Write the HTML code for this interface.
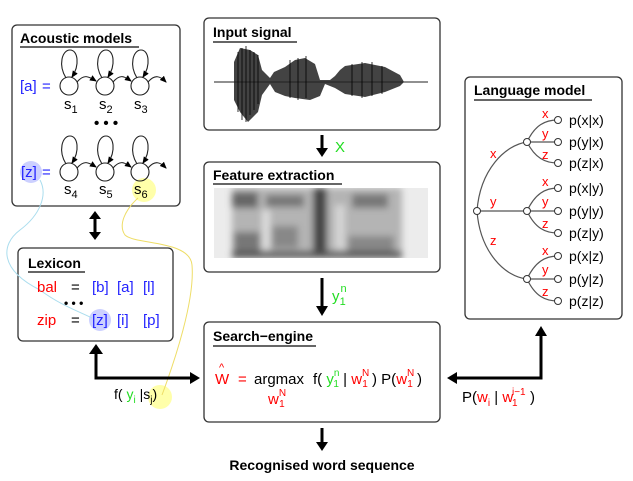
<!DOCTYPE html>
<html><head><meta charset="utf-8"><style>
body{margin:0;background:#fff;width:633px;height:481px;overflow:hidden}
svg{display:block;font-family:"Liberation Sans",sans-serif}
.t{font-weight:bold;font-size:14px}
.b{fill:#22f}.r{fill:#f00}.g{fill:#2d2}
</style></head><body>
<svg width="633" height="481" viewBox="0 0 633 481">
<defs>
<marker id="ah" markerWidth="8" markerHeight="8" refX="6" refY="4" orient="auto" markerUnits="userSpaceOnUse"><path d="M0,1 L7,4 L0,7z" fill="#000"/></marker>
<filter id="bl" x="-10%" y="-10%" width="120%" height="120%"><feGaussianBlur stdDeviation="3.5"/></filter>
<clipPath id="sc"><rect x="214" y="188" width="214" height="70"/></clipPath>
</defs>
<g fill="none" stroke="#333" stroke-width="1.3">
<rect x="12" y="25" width="168" height="181" rx="5"/>
<rect x="18" y="248" width="155" height="93" rx="5"/>
<rect x="204" y="18" width="236" height="112" rx="5"/>
<rect x="204" y="162" width="236" height="110" rx="5"/>
<rect x="204" y="322" width="236" height="100" rx="5"/>
<rect x="465" y="77" width="157" height="242" rx="5"/>
</g>
<text x="20" y="43" class="t">Acoustic models</text><line x1="20" y1="47" x2="139" y2="47" stroke="#333" stroke-width="1.5"/>
<text x="28" y="268" class="t" font-size="15">Lexicon</text><line x1="28" y1="272" x2="85" y2="272" stroke="#333" stroke-width="1.5"/>
<text x="213" y="37" class="t">Input signal</text><line x1="213" y1="42" x2="297" y2="42" stroke="#333" stroke-width="1.5"/>
<text x="213" y="180" class="t">Feature extraction</text><line x1="213" y1="184" x2="342" y2="184" stroke="#333" stroke-width="1.5"/>
<text x="213" y="341" class="t">Search−engine</text><line x1="213" y1="346" x2="316" y2="346" stroke="#333" stroke-width="1.5"/>
<text x="474" y="95" class="t">Language model</text><line x1="474" y1="100" x2="592" y2="100" stroke="#333" stroke-width="1.5"/>
<circle cx="31" cy="172" r="11" fill="#ccd0ff"/>
<circle cx="144" cy="190" r="12" fill="#ffffaa"/>
<circle cx="100" cy="320" r="11" fill="#ccd0ff"/>
<circle cx="160" cy="397" r="12" fill="#ffffaa"/>
<path d="M40,180 C48,195 40,215 20,230 C0,245 0,270 40,290 C60,305 80,312 92,318" fill="none" stroke="#aaddee" stroke-width="1"/>
<path d="M138,198 C125,210 118,225 125,235 C135,245 190,240 192,265 C195,300 175,360 162,395" fill="none" stroke="#eedd66" stroke-width="1"/>
<g fill="none" stroke="#222" stroke-width="1.1">
<circle cx="69" cy="86" r="9"/><circle cx="105" cy="86" r="9"/><circle cx="140" cy="86" r="9"/>
<circle cx="69" cy="172" r="9"/><circle cx="105" cy="172" r="9"/><circle cx="140" cy="172" r="9"/>
<path d="M66,78 C58,65 62,50 70,50 C78,50 80,65 72,77" marker-end="url(#ah)"/>
<path d="M102,78 C94,65 98,50 106,50 C114,50 116,65 108,77" marker-end="url(#ah)"/>
<path d="M137,78 C129,65 133,50 141,50 C149,50 151,65 143,77" marker-end="url(#ah)"/>
<path d="M66,164 C58,151 62,136 70,136 C78,136 80,151 72,163" marker-end="url(#ah)"/>
<path d="M102,164 C94,151 98,136 106,136 C114,136 116,151 108,163" marker-end="url(#ah)"/>
<path d="M137,164 C129,151 133,136 141,136 C149,136 151,151 143,163" marker-end="url(#ah)"/>
<path d="M77,82 C84,74 88,76 96,81" marker-end="url(#ah)"/>
<path d="M113,82 C120,74 124,76 131,81" marker-end="url(#ah)"/>
<path d="M148,82 C155,74 160,76 166,82" marker-end="url(#ah)"/>
<path d="M77,168 C84,160 88,162 96,167" marker-end="url(#ah)"/>
<path d="M113,168 C120,160 124,162 131,167" marker-end="url(#ah)"/>
<path d="M148,168 C155,160 160,162 166,168" marker-end="url(#ah)"/>
</g>
<g font-size="15">
<text x="20" y="91" class="b">[a]</text><text x="42" y="91" class="b">=</text>
<text x="21" y="177" class="b">[z]</text><text x="42" y="177" class="b">=</text>
<text x="64" y="109">s<tspan font-size="11" dy="4">1</tspan></text>
<text x="99" y="109">s<tspan font-size="11" dy="4">2</tspan></text>
<text x="134" y="109">s<tspan font-size="11" dy="4">3</tspan></text>
<text x="64" y="194">s<tspan font-size="11" dy="4">4</tspan></text>
<text x="99" y="194">s<tspan font-size="11" dy="4">5</tspan></text>
<text x="134" y="194">s<tspan font-size="11" dy="4">6</tspan></text>
<text x="94" y="128" font-weight="bold">• • •</text>
<text x="37" y="292" class="r">bal</text><text x="71" y="292">=</text>
<text x="92" y="292" class="b">[b]</text><text x="117" y="292" class="b">[a]</text><text x="143" y="292" class="b">[l]</text>
<text x="64" y="307" font-weight="bold" font-size="12">• • •</text>
<text x="37" y="325" class="r">zip</text><text x="71" y="325">=</text>
<text x="92" y="325" class="b">[z]</text><text x="117" y="325" class="b">[i]</text><text x="143" y="325" class="b">[p]</text>
<text x="114" y="399" font-size="14">f( <tspan class="g">y</tspan><tspan class="g" font-size="10" dy="4">i</tspan><tspan dy="-4"> |s</tspan><tspan font-size="10" dy="4">j</tspan><tspan dy="-4">)</tspan></text>
</g>
<g stroke="#000" stroke-width="3" fill="none">
<line x1="95" y1="217" x2="95" y2="234"/>
<polyline points="96,352 96,378 192,378"/>
<line x1="322" y1="135" x2="322" y2="150"/>
<line x1="322" y1="278" x2="322" y2="308"/>
<line x1="322" y1="428" x2="322" y2="444"/>
<polyline points="541,335 541,378 456,378"/>
</g>
<g fill="#000">
<path d="M89,219 L95,211 L101,219z"/><path d="M89,232 L95,240 L101,232z"/>
<path d="M89,354 L96,344 L103,354z"/>
<path d="M190,372 L200,378 L190,384z"/>
<path d="M316,148 L322,157 L328,148z"/>
<path d="M316,306 L322,316 L328,306z"/>
<path d="M316,442 L322,451 L328,442z"/>
<path d="M535,336 L541,326 L547,336z"/>
<path d="M457,372 L447,378 L457,384z"/>
</g>
<text x="335" y="152" class="g" font-size="15">X</text>
<text x="332" y="301" class="g" font-size="15">y<tspan font-size="11" dx="1" dy="-9">n</tspan><tspan font-size="11" dx="-7" dy="13">1</tspan></text>
<text x="322" y="470" class="t" font-size="13" text-anchor="middle">Recognised word sequence</text>
<g font-size="15">
<text x="215" y="384" class="r">W</text><text x="219" y="371" class="r" font-size="11">^</text>
<text x="238" y="384" class="r">=</text>
<text x="254" y="384">argmax</text>
<text x="313" y="384">f( <tspan class="g">y</tspan><tspan class="g" font-size="10" dy="-8">n</tspan><tspan class="g" font-size="10" dx="-6" dy="11">1</tspan><tspan dy="-3"> | </tspan><tspan class="r">w</tspan><tspan class="r" font-size="10" dy="-8">N</tspan><tspan class="r" font-size="10" dx="-7" dy="11">1</tspan><tspan dy="-3"> ) P(</tspan><tspan class="r">w</tspan><tspan class="r" font-size="10" dy="-8">N</tspan><tspan class="r" font-size="10" dx="-7" dy="11">1</tspan><tspan dy="-3"> )</tspan></text>
<text x="268" y="404" class="r">w<tspan font-size="10" dy="-8">N</tspan><tspan font-size="10" dx="-7" dy="11">1</tspan></text>
<text x="462" y="402">P(<tspan class="r">w</tspan><tspan class="r" font-size="10" dy="4">i</tspan><tspan dy="-4"> | </tspan><tspan class="r">w</tspan></text>
<text x="512" y="395" class="r" font-size="10">i−1</text>
<text x="512" y="406" class="r" font-size="10">1</text>
<text x="530" y="402">)</text>
</g>
<line x1="214" y1="82" x2="428" y2="82" stroke="#222" stroke-width="1"/>
<g fill="#222" opacity="0.85">
<path d="M234,62 L240,48 L250,50 L258,55 L262,70 L270,78 L274,72 L285,67 L295,60 L305,58 L315,64 L320,80 L330,80 L335,76 L340,70 L345,66 L365,63 L385,67 L400,75 L404,82 L400,86 L385,92 L365,97 L345,94 L335,88 L325,84 L320,96 L310,100 L295,98 L285,96 L275,92 L270,84 L262,95 L258,112 L248,122 L240,112 L234,100z"/>
</g>
<g stroke="#000" stroke-width="0.8">
<line x1="238" y1="52" x2="238" y2="112"/><line x1="242" y1="48" x2="242" y2="120"/><line x1="246" y1="46" x2="246" y2="122"/><line x1="250" y1="50" x2="250" y2="115"/><line x1="254" y1="52" x2="254" y2="110"/><line x1="258" y1="55" x2="258" y2="104"/>
<line x1="290" y1="60" x2="290" y2="98"/><line x1="298" y1="58" x2="298" y2="100"/><line x1="306" y1="56" x2="306" y2="98"/>
<line x1="352" y1="64" x2="352" y2="96"/><line x1="362" y1="62" x2="362" y2="98"/><line x1="372" y1="62" x2="372" y2="96"/><line x1="382" y1="66" x2="382" y2="94"/>
</g>
<rect x="214" y="188" width="214" height="70" fill="#ececec"/>
<g clip-path="url(#sc)"><g filter="url(#bl)">
<rect x="232" y="188" width="170" height="70" fill="#b4b4b4"/>
<rect x="232" y="192" width="26" height="16" fill="#666"/>
<rect x="234" y="232" width="26" height="22" fill="#777"/>
<rect x="266" y="195" width="38" height="12" fill="#777"/>
<rect x="272" y="226" width="26" height="22" fill="#888"/>
<rect x="313" y="188" width="14" height="70" fill="#444"/>
<rect x="352" y="194" width="36" height="14" fill="#777"/>
<rect x="348" y="236" width="46" height="16" fill="#888"/>
<rect x="232" y="251" width="170" height="7" fill="#555"/>
<rect x="262" y="210" width="8" height="40" fill="#ddd"/>
<rect x="335" y="205" width="10" height="45" fill="#d4d4d4"/>
</g></g>
<g fill="none" stroke="#555" stroke-width="1.2">
<path d="M477,211 C480,170 505,145 527,142"/>
<line x1="477" y1="211" x2="527" y2="211"/>
<path d="M477,211 C480,252 505,277 527,279"/>
<path d="M527,142 C535,125 545,120 558,120"/><line x1="527" y1="142" x2="558" y2="142"/><path d="M527,142 C535,158 545,163 558,163"/>
<path d="M527,211 C535,194 545,188 558,188"/><line x1="527" y1="211" x2="558" y2="211"/><path d="M527,211 C535,228 545,233 558,233"/>
<path d="M527,279 C535,262 545,256 558,256"/><line x1="527" y1="279" x2="558" y2="279"/><path d="M527,279 C535,296 545,301 558,301"/>
</g>
<g fill="#fff" stroke="#333" stroke-width="1">
<circle cx="477" cy="211" r="3.5"/><circle cx="527" cy="142" r="3.5"/><circle cx="527" cy="211" r="3.5"/><circle cx="527" cy="279" r="3.5"/>
<circle cx="558" cy="120" r="3.5"/><circle cx="558" cy="142" r="3.5"/><circle cx="558" cy="163" r="3.5"/>
<circle cx="558" cy="188" r="3.5"/><circle cx="558" cy="211" r="3.5"/><circle cx="558" cy="233" r="3.5"/>
<circle cx="558" cy="256" r="3.5"/><circle cx="558" cy="279" r="3.5"/><circle cx="558" cy="301" r="3.5"/>
</g>
<g font-size="13" class="r">
<text x="490" y="158">x</text><text x="490" y="206">y</text><text x="490" y="245">z</text>
<text x="542" y="118">x</text><text x="542" y="138">y</text><text x="542" y="159">z</text>
<text x="542" y="186">x</text><text x="542" y="206">y</text><text x="542" y="228">z</text>
<text x="542" y="255">x</text><text x="542" y="274">y</text><text x="542" y="296">z</text>
</g>
<g font-size="14">
<text x="569" y="125">p(x|x)</text><text x="569" y="147">p(y|x)</text><text x="569" y="168">p(z|x)</text>
<text x="569" y="193">p(x|y)</text><text x="569" y="216">p(y|y)</text><text x="569" y="238">p(z|y)</text>
<text x="569" y="261">p(x|z)</text><text x="569" y="284">p(y|z)</text><text x="569" y="306">p(z|z)</text>
</g>
</svg>
</body></html>
